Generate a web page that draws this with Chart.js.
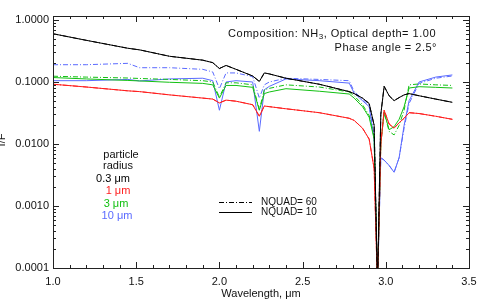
<!DOCTYPE html>
<html>
<head>
<meta charset="utf-8">
<script src="https://cdn.jsdelivr.net/npm/chart.js@4.4.1/dist/chart.umd.min.js"></script>
<style>
    html, body { margin: 0; padding: 0; background: #fff; }
</style>
</head>
<body>
<canvas id="reflChart" width="485" height="303"></canvas>
<script>
// wavelength grid (micron)
const wavelengths = [1.0, 1.2, 1.45, 1.52, 1.7, 1.9, 1.96, 2.0, 2.04, 2.1, 2.2, 2.24, 2.27, 2.3, 2.4, 2.6,
    2.78, 2.81, 2.86, 2.9, 2.93, 2.95, 2.97, 2.99, 3.02, 3.05, 3.08, 3.11, 3.14, 3.2, 3.3, 3.4];

// I/F per particle radius, NQUAD = 60 (dash-dot) and NQUAD = 10 (solid)
const r03Nquad60 = [0.60, 0.47, 0.35, 0.33, 0.26, 0.225, 0.205, 0.165, 0.185, 0.16, 0.125, 0.102, 0.14, 0.135, 0.115, 0.092,
    0.07, 0.065, 0.055, 0.045, 0.02, 0.00005, 0.03, 0.085, 0.06, 0.05, 0.056, 0.062, 0.065, 0.06, 0.053, 0.047];
const r03Nquad10 = [0.60, 0.47, 0.35, 0.33, 0.26, 0.225, 0.205, 0.165, 0.185, 0.16, 0.125, 0.102, 0.14, 0.135, 0.115, 0.092,
    0.07, 0.065, 0.055, 0.045, 0.02, 0.00005, 0.03, 0.085, 0.06, 0.05, 0.056, 0.062, 0.065, 0.06, 0.053, 0.047];
const r1Nquad60 = [0.092, 0.083, 0.072, 0.07, 0.062, 0.055, 0.053, 0.046, 0.051, 0.049, 0.043, 0.028, 0.041, 0.04, 0.037, 0.032,
    0.026, 0.024, 0.018, 0.012, 0.004, 0.00005, 0.01, 0.035, 0.021, 0.018, 0.022, 0.026, 0.032, 0.031, 0.028, 0.025];
const r1Nquad10 = [0.092, 0.083, 0.072, 0.07, 0.062, 0.055, 0.053, 0.046, 0.051, 0.049, 0.043, 0.028, 0.041, 0.04, 0.037, 0.032,
    0.026, 0.024, 0.018, 0.012, 0.004, 0.00005, 0.01, 0.035, 0.021, 0.018, 0.022, 0.026, 0.032, 0.031, 0.028, 0.025];
const r3Nquad60 = [0.124, 0.12, 0.116, 0.114, 0.11, 0.105, 0.1, 0.057, 0.097, 0.097, 0.09, 0.036, 0.075, 0.079, 0.09, 0.083,
    0.069, 0.06, 0.043, 0.029, 0.013, 0.00005, 0.01, 0.032, 0.016, 0.014, 0.02, 0.035, 0.09, 0.093, 0.09, 0.088];
const r3Nquad10 = [0.118, 0.112, 0.106, 0.104, 0.099, 0.095, 0.09, 0.055, 0.088, 0.088, 0.082, 0.035, 0.065, 0.069, 0.078, 0.071,
    0.064, 0.055, 0.04, 0.027, 0.012, 0.00005, 0.01, 0.033, 0.017, 0.019, 0.025, 0.04, 0.08, 0.084, 0.082, 0.08];
const r10Nquad60 = [0.19, 0.19, 0.2, 0.17, 0.17, 0.16, 0.145, 0.078, 0.14, 0.14, 0.122, 0.055, 0.09, 0.1, 0.115, 0.11,
    0.105, 0.07, 0.053, 0.042, 0.013, 0.00005, 0.006, 0.0055, 0.0045, 0.0035, 0.006, 0.018, 0.045, 0.095, 0.115, 0.125];
const r10Nquad10 = [0.105, 0.105, 0.11, 0.104, 0.112, 0.115, 0.105, 0.035, 0.1, 0.105, 0.1, 0.016, 0.075, 0.085, 0.112, 0.105,
    0.096, 0.066, 0.05, 0.04, 0.012, 0.00005, 0.006, 0.0055, 0.0045, 0.0035, 0.006, 0.02, 0.05, 0.1, 0.12, 0.13];

const radiusLabels = ['0.3 μm', '1 μm', '3 μm', '10 μm'];
const xMajorTicks = [1.0, 1.5, 2.0, 2.5, 3.0, 3.5];
const yMajorTicks = [0.0001, 0.001, 0.01, 0.1, 1];

const FONT = '"Liberation Sans", Arial, sans-serif';
const colors = ['#000000', '#ff1e1e', '#12c012', '#5a6aff'];
const dashDot = [5, 2, 1, 2];

function makeSet(label, values, color, dashed) {
    return {
        label: label,
        data: wavelengths.map((w, i) => ({ x: w, y: values[i] })),
        borderColor: color,
        borderWidth: 1,
        borderDash: dashed ? dashDot : [],
        pointRadius: 0,
        fill: false,
        tension: 0
    };
}

// frame with inward IDL-style ticks + text annotations
const framePlugin = {
    id: 'framePlugin',
    afterDatasetsDraw(chart) {
        const ctx = chart.ctx;
        const a = chart.chartArea;
        const x = chart.scales.x;
        const y = chart.scales.y;
        ctx.save();
        ctx.strokeStyle = '#222';
        ctx.lineWidth = 1;
        ctx.strokeRect(Math.round(a.left) + 0.5, Math.round(a.top) + 0.5,
            Math.round(a.right - a.left), Math.round(a.bottom - a.top));

        ctx.beginPath();
        for (let i = 0; i <= 25; i++) {
            let px = Math.round(x.getPixelForValue(1 + i * 0.1)) + 0.5;
            let len = (i % 5 === 0) ? 6 : 3;
            ctx.moveTo(px, a.bottom); ctx.lineTo(px, a.bottom - len);
            ctx.moveTo(px, a.top); ctx.lineTo(px, a.top + len);
        }
        for (let e = -4; e <= 0; e++) {
            for (let m = 1; m <= 9; m++) {
                let v = m * Math.pow(10, e);
                if (v > y.max) break;
                let py = Math.round(y.getPixelForValue(v)) + 0.5;
                let len = (m === 1) ? 6 : 3;
                ctx.moveTo(a.left, py); ctx.lineTo(a.left + len, py);
                ctx.moveTo(a.right, py); ctx.lineTo(a.right - len, py);
            }
        }
        ctx.stroke();

        ctx.fillStyle = '#111';
        ctx.textBaseline = 'middle';

        // title lines, right aligned, a little letter spacing like the IDL font
        ctx.letterSpacing = '0.5px';
        ctx.font = '11px ' + FONT;
        let p1 = 'Composition: NH';
        let p3 = ', Optical depth= 1.00';
        ctx.font = '8px ' + FONT;
        let wSub = ctx.measureText('3').width;
        ctx.font = '11px ' + FONT;
        let w1 = ctx.measureText(p1).width;
        let w3 = ctx.measureText(p3).width;
        let startX = 436 - (w1 + wSub + w3);
        ctx.textAlign = 'left';
        ctx.fillText(p1, startX, 34);
        ctx.font = '8px ' + FONT;
        ctx.fillText('3', startX + w1, 37);
        ctx.font = '11px ' + FONT;
        ctx.fillText(p3, startX + w1 + wSub, 34);
        ctx.textAlign = 'right';
        ctx.fillText('Phase angle = 2.5°', 437, 48);
        ctx.letterSpacing = '0px';

        // particle radius legend
        ctx.textAlign = 'center';
        ctx.fillText('particle', 121, 155);
        ctx.fillText('radius', 118, 166);
        let legendX = [113, 118, 116, 117];
        radiusLabels.forEach((t, i) => {
            ctx.fillStyle = colors[i];
            ctx.fillText(t, legendX[i], 179 + i * 12.3);
        });

        // NQUAD legend
        ctx.strokeStyle = '#000';
        ctx.setLineDash(dashDot);
        ctx.beginPath(); ctx.moveTo(219, 202.5); ctx.lineTo(252, 202.5); ctx.stroke();
        ctx.setLineDash([]);
        ctx.beginPath(); ctx.moveTo(219, 212.5); ctx.lineTo(252, 212.5); ctx.stroke();
        ctx.fillStyle = '#111';
        ctx.textAlign = 'left';
        ctx.font = '10px ' + FONT;
        ctx.fillText('NQUAD= 60', 261, 202);
        ctx.fillText('NQUAD= 10', 261, 212);

        // y title, cut at the left edge like the original
        ctx.font = '11px ' + FONT;
        ctx.translate(2, 140);
        ctx.rotate(-Math.PI / 2);
        ctx.textAlign = 'center';
        ctx.fillText('I/F', 0, 0);
        ctx.restore();
    }
};

const ctx = document.getElementById('reflChart').getContext('2d');
new Chart(ctx, {
    type: 'line',
    data: {
        datasets: [
            makeSet('0.3 um NQUAD=60', r03Nquad60, colors[0], true),
            makeSet('0.3 um NQUAD=10', r03Nquad10, colors[0], false),
            makeSet('1 um NQUAD=60', r1Nquad60, colors[1], true),
            makeSet('1 um NQUAD=10', r1Nquad10, colors[1], false),
            makeSet('3 um NQUAD=60', r3Nquad60, colors[2], true),
            makeSet('3 um NQUAD=10', r3Nquad10, colors[2], false),
            makeSet('10 um NQUAD=60', r10Nquad60, colors[3], true),
            makeSet('10 um NQUAD=10', r10Nquad10, colors[3], false)
        ]
    },
    options: {
        responsive: false,
        animation: false,
        devicePixelRatio: 1,
        layout: { padding: { top: 16, right: 16, left: 0, bottom: 0 } },
        plugins: {
            legend: { display: false },
            tooltip: { enabled: false }
        },
        scales: {
            x: {
                type: 'linear',
                min: 1.0,
                max: 3.5,
                afterBuildTicks: s => { s.ticks = xMajorTicks.map(v => ({ value: v })); },
                afterFit: s => { s.height = 35; },
                ticks: {
                    callback: v => Number(v).toFixed(1),
                    padding: 7,
                    maxRotation: 0,
                    autoSkip: false,
                    color: '#111',
                    font: { family: FONT, size: 11 }
                },
                grid: { display: false, drawTicks: false },
                border: { display: false },
                title: {
                    display: true,
                    text: 'Wavelength, μm',
                    color: '#111',
                    padding: { top: 0, bottom: 2 },
                    font: { family: FONT, size: 11 }
                }
            },
            y: {
                type: 'logarithmic',
                min: 0.0001,
                max: 1.16,
                afterBuildTicks: s => { s.ticks = yMajorTicks.map(v => ({ value: v })); },
                afterFit: s => { s.width = 53; },
                ticks: {
                    callback: v => Number(v).toFixed(4),
                    padding: 4,
                    autoSkip: false,
                    color: '#111',
                    font: { family: FONT, size: 11 }
                },
                grid: { display: false, drawTicks: false },
                border: { display: false }
            }
        }
    },
    plugins: [framePlugin]
});
</script>
</body>
</html>
